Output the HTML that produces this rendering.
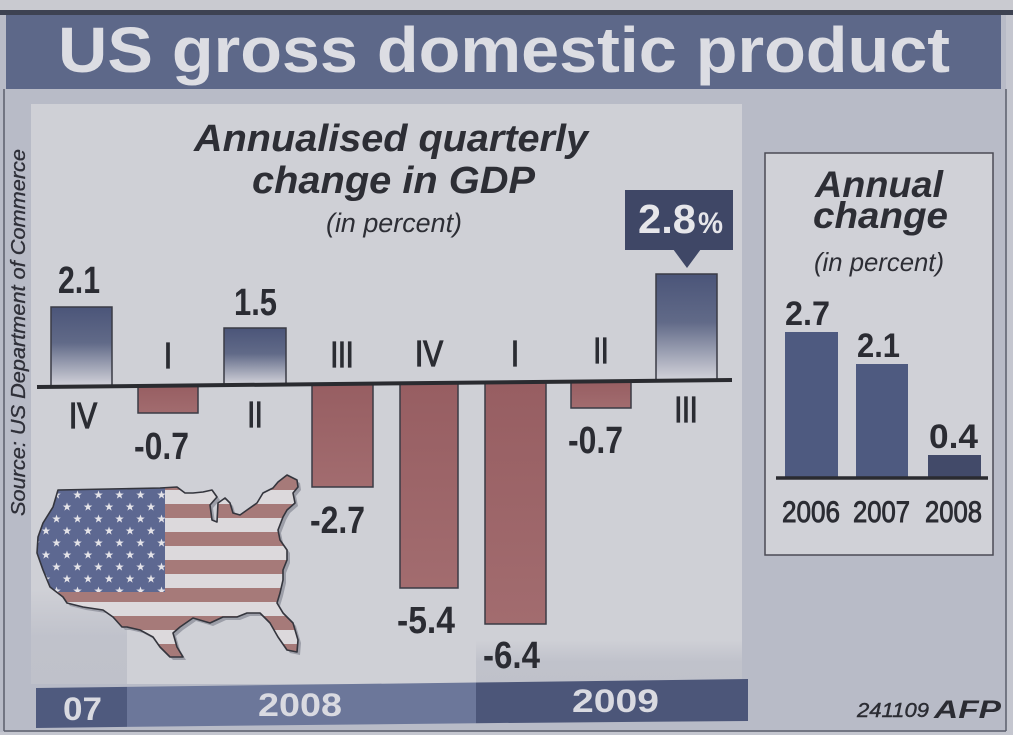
<!DOCTYPE html>
<html>
<head>
<meta charset="utf-8">
<style>
  html,body{margin:0;padding:0;background:#b8bbc7;}
  svg{display:block;}
  text{font-family:"Liberation Sans", Arial, sans-serif;}
</style>
</head>
<body>
<svg width="1013" height="735" viewBox="0 0 1013 735" xmlns="http://www.w3.org/2000/svg">
  <defs>
    <linearGradient id="pos" x1="0" y1="0" x2="0" y2="1">
      <stop offset="0" stop-color="#4b5579"/>
      <stop offset="0.45" stop-color="#616a88"/>
      <stop offset="1" stop-color="#d4d4db"/>
    </linearGradient>
    <linearGradient id="neg" x1="0" y1="0" x2="0" y2="1">
      <stop offset="0" stop-color="#975e62"/>
      <stop offset="1" stop-color="#a26c6f"/>
    </linearGradient>
    <linearGradient id="darkL" x1="0" y1="0" x2="0" y2="1">
      <stop offset="0" stop-color="#c0c2cb" stop-opacity="0"/>
      <stop offset="0.5" stop-color="#c0c2cb" stop-opacity="1"/>
      <stop offset="1" stop-color="#bfc1ca" stop-opacity="1"/>
    </linearGradient>
    <pattern id="stars" x="40" y="476" width="21" height="24" patternUnits="userSpaceOnUse">
      <path transform="translate(6,7)" fill="#e4e3e8" d="M0,-4.5 L1.06,-1.46 L4.28,-1.39 L1.71,0.56 L2.65,3.64 L0,1.8 L-2.65,3.64 L-1.71,0.56 L-4.28,-1.39 L-1.06,-1.46 Z"/>
      <path transform="translate(16.5,19)" fill="#e4e3e8" d="M0,-4.5 L1.06,-1.46 L4.28,-1.39 L1.71,0.56 L2.65,3.64 L0,1.8 L-2.65,3.64 L-1.71,0.56 L-4.28,-1.39 L-1.06,-1.46 Z"/>
    </pattern>
    <clipPath id="usa">
      <polygon id="usapoly" points="58,490 160,488 177,487 185,493 193,493 203,492 212,490 217,497 210,505 212,520 217,522 218,503 225,498 230,503 233,513 240,515 247,510 257,503 263,493 273,488 278,482 287,475 297,480 298,487 293,493 295,503 287,510 283,517 278,530 280,540 287,550 287,560 283,570 283,580 280,593 277,603 283,613 293,623 298,640 297,652 287,650 278,637 270,623 260,613 247,613 237,617 223,617 210,623 193,618 180,627 173,633 177,647 183,657 170,657 160,647 153,637 140,630 127,627 122,627 113,617 103,610 83,607 67,603 63,597 50,587 43,570 37,553 38,537 43,523 53,507"/>
    </clipPath>
  </defs>

  <!-- background -->
  <rect x="0" y="0" width="1013" height="735" fill="#b8bbc7"/>
  <rect x="0" y="0" width="1013" height="10" fill="#c9cad0"/>
  <rect x="0" y="10" width="1013" height="5" fill="#3d4252"/>
  <rect x="1006" y="15" width="7" height="720" fill="#c4c6cf"/>
  <rect x="0" y="732" width="1013" height="3" fill="#c4c6cf"/>

  <!-- title banner -->
  <rect x="6" y="15" width="995" height="74" fill="#5d6889"/>
  <text x="58" y="72" font-size="64" font-weight="bold" fill="#dcdde3" textLength="892" lengthAdjust="spacingAndGlyphs">US gross domestic product</text>

  <!-- frame lines -->
  <line x1="4" y1="89" x2="4" y2="731" stroke="#5a5e6b" stroke-width="1.5"/>
  <line x1="4" y1="731" x2="1006" y2="731" stroke="#5a5e6b" stroke-width="1.5"/>
  <line x1="1006" y1="89" x2="1006" y2="731" stroke="#5a5e6b" stroke-width="1.5"/>

  <!-- light panel -->
  <rect x="31" y="104" width="711" height="580" fill="#cfd0d6"/>
  <rect x="31" y="590" width="96" height="94" fill="url(#darkL)"/>
  <rect x="476" y="640" width="266" height="44" fill="url(#darkL)"/>

  <!-- source -->
  <text transform="translate(25,516) rotate(-90)" font-size="20" font-style="italic" fill="#2e2f38" stroke="#2e2f38" stroke-width="0.3" textLength="367" lengthAdjust="spacingAndGlyphs">Source: US Department of Commerce</text>

  <!-- chart title -->
  <text x="194" y="151" font-size="38" font-weight="bold" font-style="italic" fill="#2d2e35" textLength="394" lengthAdjust="spacingAndGlyphs">Annualised quarterly</text>
  <text x="252" y="193" font-size="38" font-weight="bold" font-style="italic" fill="#2d2e35" textLength="283" lengthAdjust="spacingAndGlyphs">change in GDP</text>
  <text x="326" y="232" font-size="27" font-style="italic" fill="#2d2e35" textLength="136" lengthAdjust="spacingAndGlyphs">(in percent)</text>

  <!-- flag map -->
  <use href="#usapoly" transform="translate(3,3)" fill="#9c9ea8"/>
  <g clip-path="url(#usa)">
    <rect x="30" y="470" width="280" height="200" fill="#dcd9dc"/>
    <rect x="30" y="476" width="280" height="14" fill="#a67a79"/>
    <rect x="30" y="504" width="280" height="14" fill="#a67a79"/>
    <rect x="30" y="532" width="280" height="14" fill="#a67a79"/>
    <rect x="30" y="560" width="280" height="14" fill="#a67a79"/>
    <rect x="30" y="588" width="280" height="14" fill="#a67a79"/>
    <rect x="30" y="616" width="280" height="14" fill="#a67a79"/>
    <rect x="30" y="644" width="280" height="14" fill="#a67a79"/>
    <rect x="30" y="476" width="135" height="116" fill="#5d6891"/>
    <rect x="30" y="476" width="135" height="116" fill="url(#stars)"/>
  </g>
  <polygon points="58,490 160,488 177,487 185,493 193,493 203,492 212,490 217,497 210,505 212,520 217,522 218,503 225,498 230,503 233,513 240,515 247,510 257,503 263,493 273,488 278,482 287,475 297,480 298,487 293,493 295,503 287,510 283,517 278,530 280,540 287,550 287,560 283,570 283,580 280,593 277,603 283,613 293,623 298,640 297,652 287,650 278,637 270,623 260,613 247,613 237,617 223,617 210,623 193,618 180,627 173,633 177,647 183,657 170,657 160,647 153,637 140,630 127,627 122,627 113,617 103,610 83,607 67,603 63,597 50,587 43,570 37,553 38,537 43,523 53,507" fill="none" stroke="#34353d" stroke-width="1.6" stroke-linejoin="round"/>

  <!-- bars -->
  <g stroke="#3a3b45" stroke-width="1.5">
    <rect x="51" y="307" width="61" height="79.5" fill="url(#pos)"/>
    <rect x="138" y="385.5" width="60" height="27.5" fill="url(#neg)"/>
    <rect x="224" y="328" width="62" height="57" fill="url(#pos)"/>
    <rect x="312" y="384" width="61" height="103" fill="url(#neg)"/>
    <rect x="400" y="383.5" width="58" height="204.5" fill="url(#neg)"/>
    <rect x="485" y="382.5" width="61" height="241.5" fill="url(#neg)"/>
    <rect x="571" y="381.7" width="60" height="26.3" fill="url(#neg)"/>
    <rect x="656" y="274" width="61" height="107" fill="url(#pos)"/>
  </g>
  <!-- zero line -->
  <line x1="37" y1="387" x2="732" y2="380" stroke="#2a2b30" stroke-width="4"/>

  <!-- value labels -->
  <g font-size="38" font-weight="bold" fill="#2b2c33">
    <text x="58" y="293" textLength="42" lengthAdjust="spacingAndGlyphs">2.1</text>
    <text x="234" y="315" textLength="43" lengthAdjust="spacingAndGlyphs">1.5</text>
    <text x="134" y="459" textLength="55" lengthAdjust="spacingAndGlyphs">-0.7</text>
    <text x="310" y="533" textLength="55" lengthAdjust="spacingAndGlyphs">-2.7</text>
    <text x="397" y="633" textLength="58" lengthAdjust="spacingAndGlyphs">-5.4</text>
    <text x="483" y="668" textLength="57" lengthAdjust="spacingAndGlyphs">-6.4</text>
    <text x="568" y="453" textLength="55" lengthAdjust="spacingAndGlyphs">-0.7</text>
  </g>

  <!-- quarter labels -->
  <g font-size="36" fill="#2b2c33" stroke="#2b2c33" stroke-width="1.3" text-anchor="middle">
    <text x="168" y="368" textLength="8" lengthAdjust="spacingAndGlyphs">I</text>
    <text x="342" y="367" textLength="23" lengthAdjust="spacingAndGlyphs">III</text>
    <text x="429" y="366" textLength="28" lengthAdjust="spacingAndGlyphs">IV</text>
    <text x="515" y="366" textLength="8" lengthAdjust="spacingAndGlyphs">I</text>
    <text x="601" y="363" textLength="15" lengthAdjust="spacingAndGlyphs">II</text>
    <text x="83" y="428" textLength="28" lengthAdjust="spacingAndGlyphs">IV</text>
    <text x="255" y="427" textLength="15" lengthAdjust="spacingAndGlyphs">II</text>
    <text x="686" y="422" textLength="23" lengthAdjust="spacingAndGlyphs">III</text>
  </g>

  <!-- callout -->
  <rect x="625" y="190" width="108" height="60" fill="#3f4766"/>
  <polygon points="673,249 701,249 687,268" fill="#3f4766"/>
  <text x="638" y="233" font-size="41" font-weight="bold" fill="#e6e6ea" textLength="58" lengthAdjust="spacingAndGlyphs">2.8</text>
  <text x="698" y="233" font-size="30" font-weight="bold" fill="#e6e6ea" textLength="25" lengthAdjust="spacingAndGlyphs">%</text>

  <!-- bottom year strip -->
  <polygon points="36,688 127,686.9 127,726.9 36,728" fill="#4f5a7e"/>
  <polygon points="127,686.9 476,682.5 476,723.2 127,726.9" fill="#6c779a"/>
  <polygon points="476,682.5 748,679 748,721 476,723.2" fill="#4c5679"/>
  <g font-size="32" font-weight="bold" fill="#d9dae1">
    <text x="63" y="720" textLength="39" lengthAdjust="spacingAndGlyphs">07</text>
    <text x="258" y="716" textLength="84" lengthAdjust="spacingAndGlyphs">2008</text>
    <text x="572" y="712" textLength="87" lengthAdjust="spacingAndGlyphs">2009</text>
  </g>

  <!-- AFP -->
  <text x="857" y="717" font-size="20" font-style="italic" fill="#2b2c33" stroke="#2b2c33" stroke-width="0.4" textLength="72" lengthAdjust="spacingAndGlyphs">241109</text>
  <text x="934" y="718" font-size="25" font-weight="bold" font-style="italic" fill="#2b2c33" textLength="67" lengthAdjust="spacingAndGlyphs">AFP</text>

  <!-- right annual box -->
  <rect x="765" y="153" width="228" height="402" fill="#d0d1d7" stroke="#4a4b55" stroke-width="1.5"/>
  <text x="815" y="197" font-size="37" font-weight="bold" font-style="italic" fill="#2d2e35" textLength="128" lengthAdjust="spacingAndGlyphs">Annual</text>
  <text x="813" y="228" font-size="37" font-weight="bold" font-style="italic" fill="#2d2e35" textLength="135" lengthAdjust="spacingAndGlyphs">change</text>
  <text x="814" y="271" font-size="26" font-style="italic" fill="#2d2e35" textLength="130" lengthAdjust="spacingAndGlyphs">(in percent)</text>

  <rect x="785" y="332" width="53" height="146" fill="#4e5a80"/>
  <rect x="856" y="364" width="52" height="114" fill="#4e5a80"/>
  <rect x="928" y="455" width="53" height="23" fill="#424a69"/>
  <line x1="776" y1="478" x2="988" y2="478" stroke="#2a2b30" stroke-width="3.5"/>
  <g font-size="34" font-weight="bold" fill="#2b2c33">
    <text x="785" y="325" textLength="45" lengthAdjust="spacingAndGlyphs">2.7</text>
    <text x="857" y="357" textLength="43" lengthAdjust="spacingAndGlyphs">2.1</text>
    <text x="929" y="448" textLength="49" lengthAdjust="spacingAndGlyphs">0.4</text>
  </g>
  <g font-size="30" fill="#2b2c33" stroke="#2b2c33" stroke-width="0.9">
    <text x="782" y="522" textLength="58" lengthAdjust="spacingAndGlyphs">2006</text>
    <text x="853" y="522" textLength="57" lengthAdjust="spacingAndGlyphs">2007</text>
    <text x="925" y="522" textLength="57" lengthAdjust="spacingAndGlyphs">2008</text>
  </g>
</svg>
</body>
</html>
